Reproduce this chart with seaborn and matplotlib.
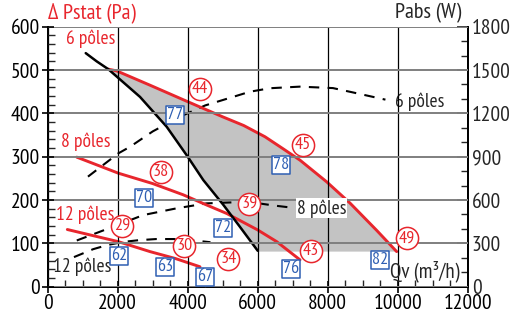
import numpy as np
import seaborn as sns
import matplotlib.pyplot as plt
from matplotlib.ticker import MultipleLocator

# ---- data ----
# static pressure curves (Qv m3/h, Pstat Pa)
p6_qv = [1730, 1971, 2923, 4000, 5000, 5600, 6209, 6731, 7209, 7971, 8637, 9400, 9971]
p6_pa = [502, 498, 465, 427, 392, 372, 346, 318, 292, 242, 193, 130, 81]
p8_qv = [829, 2017, 3000, 3874, 4500, 5114, 6000, 6543, 7209]
p8_pa = [299, 262, 238, 212, 190, 169, 131, 104, 62]
p12_qv = [560, 2017, 2923, 3650, 4351]
p12_pa = [132, 104, 81, 65, 46]

# limit line
lim_qv = [1086, 1400, 1730, 1971, 2637, 3400, 4000, 4446, 5017, 5494, 6000]
lim_pa = [539, 520, 502, 485, 438, 369, 300, 246, 189, 138, 83]
zone_floor = 81

# absorbed power curves (Qv m3/h, Pabs W)
w6_qv = [1150, 2017, 2354, 3000, 3780, 4500, 5780, 6350, 7200, 8150, 8720, 9650]
w6_w = [762, 923, 969, 1075, 1177, 1255, 1350, 1374, 1385, 1375, 1345, 1295]
w8_qv = [830, 1920, 2730, 3690, 4540, 5300, 6000, 6500, 6950]
w8_w = [320, 420, 496, 543, 577, 584, 578, 561, 548]
w12_qv = [750, 1300, 1700, 2150, 2600, 3100, 3600, 4100, 4650]
w12_w = [205, 260, 288, 310, 322, 330, 330, 322, 308]

# circled values (red) and boxed values (blue)
circ_lab = ["44", "45", "49", "38", "39", "43", "29", "30", "34"]
circ_qv = [4351, 7286, 10257, 3237, 5760, 7530, 2114, 3903, 5160]
circ_pa = [456, 327, 112, 265, 192, 82, 140, 95, 63]
box_lab = ["77", "78", "82", "70", "72", "76", "62", "63", "67"]
box_qv = [3629, 6657, 9494, 2760, 5000, 6951, 2046, 3351, 4494]
box_pa = [397, 281, 62, 205, 136, 40, 71, 46, 23]

RED = "#e8262d"
BLUE = "#2f5fb3"

sns.set_style("ticks")
plt.rcParams['font.family'] = ['PT Sans Narrow', 'DejaVu Sans']

fig = plt.figure(figsize=(5.17, 3.22), dpi=100)
ax = fig.add_axes([0.0923, 0.1096, 0.8123, 0.8075])
ax2 = ax.twinx()
ax.set_zorder(ax2.get_zorder() + 1)
ax.patch.set_visible(False)

# grey operating zone (drawn on the back axes, in Pa coordinates)
zone_x = p6_qv + [lim_qv[-1]] + lim_qv[::-1]
zone_y = p6_pa[:-1] + [zone_floor, zone_floor] + lim_pa[::-1]
ax2.fill(zone_x, zone_y, color="#c3c3c3", lw=0, transform=ax.transData, zorder=0)

# power curves on right axis
dash = (0, (5, 4))
for qv, w in [(w6_qv, w6_w), (w8_qv, w8_w), (w12_qv, w12_w)]:
    sns.lineplot(x=qv, y=w, ax=ax2, color="black", lw=1.5, linestyle=dash, sort=False)

ax2.text(9923, 1281, "6 pôles", fontsize=14, ha="left", va="center")
ax2.text(971, 138, "12 pôles", fontsize=14, ha="center", va="center")

# grid
ax.set_axisbelow(False)
ax.grid(axis="y", which="major", color="#7f7f7f", lw=1.4)
ax.grid(axis="x", which="major", color="black", lw=0.9)

# pressure curves
for qv, pa in [(p6_qv, p6_pa), (p8_qv, p8_pa), (p12_qv, p12_pa)]:
    sns.lineplot(x=qv, y=pa, ax=ax, color=RED, lw=2.1, sort=False)
sns.lineplot(x=lim_qv, y=lim_pa, ax=ax, color="black", lw=1.8, sort=False)

ax.text(1229, 573, "6 pôles", color=RED, fontsize=14, ha="center", va="center")
ax.text(1094, 335, "8 pôles", color=RED, fontsize=14, ha="center", va="center")
ax.text(1066, 165, "12 pôles", color=RED, fontsize=14, ha="center", va="center")
ax.text(7114, 543, "8 pôles", fontsize=14, ha="left", va="center",
        transform=ax2.transData,
        bbox=dict(boxstyle="square,pad=0.05", fc="white", ec="none"))
ax.text(9786, 35, "Qv (m³/h)", fontsize=15, ha="left", va="center")

# markers
sns.scatterplot(x=circ_qv, y=circ_pa, ax=ax, marker="o", s=255,
                facecolor="white", edgecolor=RED, linewidth=1.1, zorder=4)
sns.scatterplot(x=box_qv, y=box_pa, ax=ax, marker="s", s=185,
                facecolor="white", edgecolor=BLUE, linewidth=1.1, zorder=4)
for t, x, y in zip(circ_lab, circ_qv, circ_pa):
    ax.text(x, y, t, color=RED, fontsize=13, ha="center", va="center", zorder=5)
for t, x, y in zip(box_lab, box_qv, box_pa):
    ax.text(x, y, t, color=BLUE, fontsize=13, ha="center", va="center", zorder=5)

# axes
ax.set_xlim(0, 12000)
ax.set_ylim(0, 600)
ax2.set_ylim(0, 1800)
ax.xaxis.set_major_locator(MultipleLocator(2000))
ax.xaxis.set_minor_locator(MultipleLocator(500))
ax.yaxis.set_major_locator(MultipleLocator(100))
ax.yaxis.set_minor_locator(MultipleLocator(20))
ax2.yaxis.set_major_locator(MultipleLocator(300))
ax2.yaxis.set_minor_locator(MultipleLocator(100))

ax.tick_params(which="major", direction="inout", length=8, width=1.2,
               labelsize=15.5, pad=1.5, colors="black")
ax.tick_params(which="minor", direction="in", length=5, width=1.0)
ax2.tick_params(which="major", direction="in", length=8, width=1.2,
                labelsize=15.5, pad=3)
ax2.tick_params(which="minor", direction="in", length=5, width=1.0)

for a in (ax, ax2):
    a.spines["top"].set_visible(False)
    for s in ("left", "right", "bottom"):
        a.spines[s].set_color("black")
        a.spines[s].set_linewidth(1.3)
ax.set_xlabel("")
ax.set_ylabel("")
ax2.set_ylabel("")

fig.text(48 / 517, 1 - 13 / 322, "Δ Pstat (Pa)", color=RED, fontsize=16,
         ha="left", va="center")
fig.text(461 / 517, 1 - 13 / 322, "Pabs (W)", fontsize=16,
         ha="right", va="center")

fig.savefig("out.png", dpi=100)
